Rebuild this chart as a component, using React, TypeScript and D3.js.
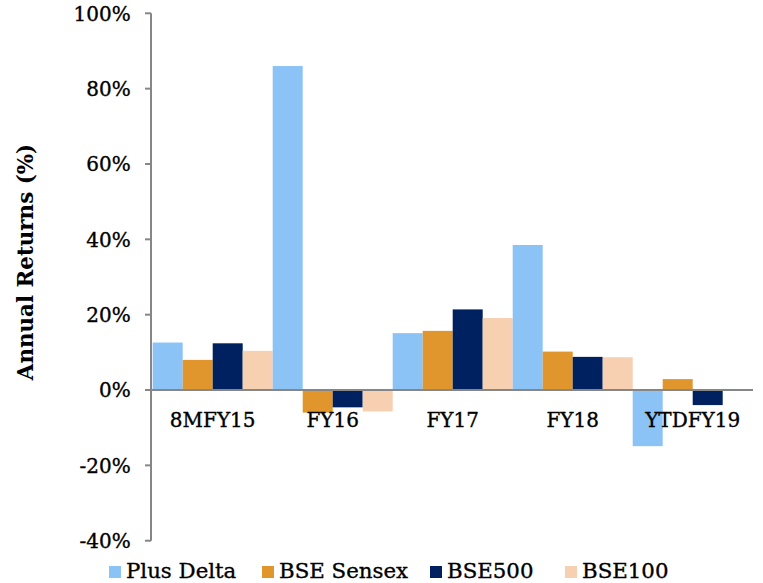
import React from "react";
import * as d3 from "d3";

const categories = ["8MFY15", "FY16", "FY17", "FY18", "YTDFY19"];
const seriesNames = ["Plus Delta", "BSE Sensex", "BSE500", "BSE100"];
const plusDelta = [12.6, 86.0, 15.1, 38.5, -14.9];
const bseSensex = [8.0, -6.0, 15.7, 10.2, 2.9];
const bse500 = [12.4, -4.6, 21.4, 8.8, -4.0];
const bse100 = [10.4, -5.7, 19.1, 8.7, 0];
const yTicks = [-40, -20, 0, 20, 40, 60, 80, 100];
const colors = ["#8BC3F7", "#E0962D", "#00215F", "#F7CFB1"];

const W = 763;
const H = 583;
const FONT = "'DejaVu Serif', serif";
const AXIS_X = 151;
const legendX = [109, 262, 430, 565];
const TXT_STROKE = 0.35;

export default function App() {
  const series = [plusDelta, bseSensex, bse500, bse100];
  const y = d3.scaleLinear().domain([-40, 100]).range([540.7, 13.3]);
  const x0 = d3.scaleBand<string>().domain(categories).range([152.7, 752.7]).paddingInner(0).paddingOuter(0);
  const x1 = d3.scaleBand<string>().domain(seriesNames).range([0, x0.bandwidth()]).padding(0);
  const axisColor = "#868686";

  return (
    <svg width={W} height={H} style={{ position: "absolute", left: 0, top: 0, background: "#fff" }} fontFamily={FONT}>
      {/* bars */}
      {categories.map((c, ci) => (
        <g key={c} transform={`translate(${x0(c)},0)`}>
          {series.map((s, si) => {
            const v = s[ci];
            const y0 = y(0);
            const yv = y(v);
            return (
              <rect
                key={si}
                x={x1(seriesNames[si])}
                y={Math.min(y0, yv)}
                width={x1.bandwidth()}
                height={Math.abs(yv - y0)}
                fill={colors[si]}
              />
            );
          })}
        </g>
      ))}
      {/* y axis */}
      <line x1={AXIS_X} x2={AXIS_X} y1={y(100)} y2={y(-40)} stroke={axisColor} strokeWidth={2} />
      {yTicks.map((t) => (
        <g key={t}>
          <line x1={AXIS_X - 6} x2={AXIS_X} y1={y(t)} y2={y(t)} stroke={axisColor} strokeWidth={2} />
          <text x={130.7} y={y(t) + 7.3} textAnchor="end" fontSize={20} fill="#000" stroke="#000" strokeWidth={TXT_STROKE}>
            {`${t}%`}
          </text>
        </g>
      ))}
      {/* zero line */}
      <line x1={AXIS_X} x2={753} y1={y(0)} y2={y(0)} stroke={axisColor} strokeWidth={2} />
      {/* category labels */}
      {categories.map((c) => (
        <text key={c} x={(x0(c) as number) + x0.bandwidth() / 2} y={426.5} textAnchor="middle" fontSize={20} fill="#000" stroke="#000" strokeWidth={TXT_STROKE}>
          {c}
        </text>
      ))}
      {/* y title */}
      <text transform="translate(33,262) rotate(-90)" textAnchor="middle" fontSize={21.4} fontWeight="bold" fill="#000">
        Annual Returns (%)
      </text>
      {/* legend */}
      {seriesNames.map((n, i) => (
        <g key={n}>
          <rect x={legendX[i]} y={566} width={12} height={12} fill={colors[i]} />
          <text x={legendX[i] + 17} y={578} fontSize={21.3} fill="#000" stroke="#000" strokeWidth={TXT_STROKE}>
            {n}
          </text>
        </g>
      ))}
    </svg>
  );
}
